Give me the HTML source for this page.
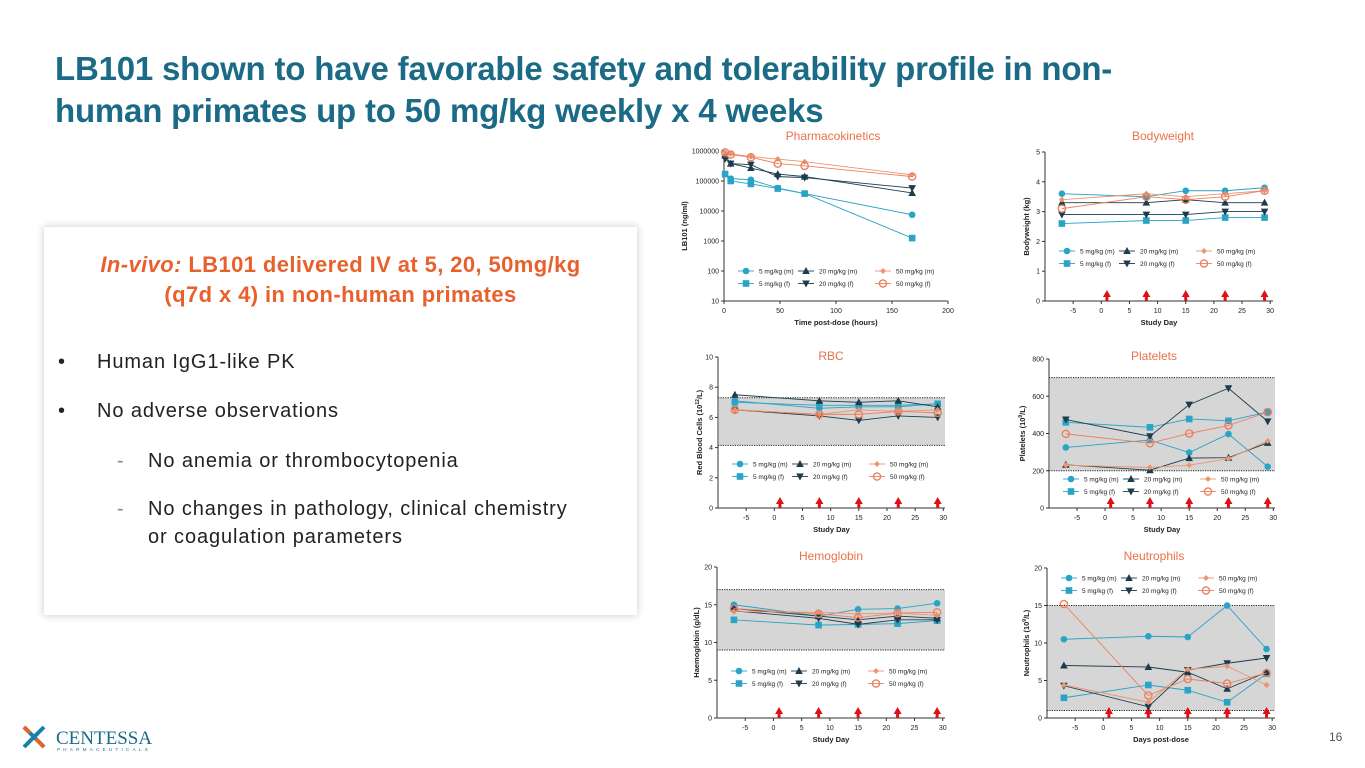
<!DOCTYPE html>
<html><head><meta charset="utf-8">
<style>
body{margin:0;width:1365px;height:768px;background:#fff;position:relative;overflow:hidden;font-family:"Liberation Sans",sans-serif}
#title{position:absolute;left:55px;top:48px;margin:0;font-size:33px;line-height:42px;font-weight:bold;color:#1b6b87;letter-spacing:-0.2px}
#card{position:absolute;left:44px;top:227px;width:593px;height:388px;background:#fff;box-shadow:0 0 8px rgba(0,0,0,0.22)}
#card h2{margin:0;position:absolute;left:0;top:23px;width:593px;text-align:center;font-size:22px;line-height:30px;color:#e8612c;font-weight:bold;letter-spacing:0.4px}
.b{position:absolute;font-size:20px;color:#222;line-height:28px;letter-spacing:0.9px}
#svg{position:absolute;left:0;top:0}
#pg{position:absolute;left:1329px;top:730px;font-size:12px;color:#555}
</style></head><body>
<h1 id="title">LB101 shown to have favorable safety and tolerability profile in non-<br>human primates up to 50 mg/kg weekly x 4 weeks</h1>
<div id="card">
<h2><i>In-vivo:</i> LB101 delivered IV at 5, 20, 50mg/kg<br>(q7d x 4) in non-human primates</h2>
<div class="b" style="left:14px;top:121px"><span style="position:absolute;left:0">•</span><span style="position:absolute;left:39px;white-space:nowrap">Human IgG1-like PK</span></div>
<div class="b" style="left:14px;top:170px"><span style="position:absolute;left:0">•</span><span style="position:absolute;left:39px;white-space:nowrap">No adverse observations</span></div>
<div class="b" style="left:73px;top:220px"><span style="position:absolute;left:0;color:#888">-</span><span style="position:absolute;left:31px;white-space:nowrap">No anemia or thrombocytopenia</span></div>
<div class="b" style="left:73px;top:268px"><span style="position:absolute;left:0;color:#888">-</span><span style="position:absolute;left:31px;white-space:nowrap">No changes in pathology, clinical chemistry<br>or coagulation parameters</span></div>
</div>
<div id="pg">16</div>
<svg id="svg" width="1365" height="768">
<g>
<path d="M24 727 L44 747 M44 727 L24 747" stroke="#1a7fa8" stroke-width="4"/>
<path d="M36 739 L44 747 M30 733 L24 727" stroke="#e8612c" stroke-width="4"/>
<text x="56" y="744" font-family="Liberation Serif,serif" font-size="19" fill="#1a6b87">CENTESSA</text>
<text x="57" y="751" font-family="Liberation Sans,sans-serif" font-size="4.5" letter-spacing="3.3" fill="#1a6b87">PHARMACEUTICALS</text>
</g>
</svg>
<script>
const days=[-7,8,15,22,29];
const pkTimes=[1,6,24,48,72,168];
const doseDays=[1,8,15,22,29];
const seriesNames=["5 mg/kg (m)","5 mg/kg (f)","20 mg/kg (m)","20 mg/kg (f)","50 mg/kg (m)","50 mg/kg (f)"];
const pk5m=[170000,120000,110000,58000,38000,7500];
const pk5f=[170000,100000,80000,56000,38000,1250];
const pk20m=[700000,380000,270000,170000,140000,40000];
const pk20f=[550000,380000,350000,140000,130000,58000];
const pk50m=[900000,800000,650000,540000,440000,160000];
const pk50f=[900000,760000,620000,380000,320000,140000];
const bw5m=[3.6,3.5,3.7,3.7,3.8];
const bw5f=[2.6,2.7,2.7,2.8,2.8];
const bw20m=[3.3,3.3,3.4,3.3,3.3];
const bw20f=[2.9,2.9,2.9,3.0,3.0];
const bw50m=[3.4,3.6,3.5,3.6,3.7];
const bw50f=[3.1,3.5,3.4,3.5,3.7];
const rbc5m=[7.1,6.6,6.7,6.7,6.9];
const rbc5f=[7.0,6.8,6.8,6.8,6.9];
const rbc20m=[7.5,7.1,7.0,7.1,6.7];
const rbc20f=[6.5,6.1,5.8,6.1,6.0];
const rbc50m=[6.5,6.2,6.5,6.4,6.5];
const rbc50f=[6.5,6.2,6.2,6.4,6.3];
const plt5m=[325,365,298,397,222];
const plt5f=[460,433,478,468,515];
const plt20m=[232,203,268,270,350];
const plt20f=[475,385,555,643,465];
const plt50m=[230,218,230,265,360];
const plt50f=[398,348,400,443,515];
const hb5m=[15,13.5,14.4,14.5,15.2];
const hb5f=[13,12.3,12.4,12.5,12.9];
const hb20m=[14.5,13.5,13.0,13.5,13.2];
const hb20f=[14.2,13.2,12.4,13.0,13.0];
const hb50m=[14.1,14.0,13.8,13.9,13.6];
const hb50f=[14.5,13.8,13.3,13.9,14.0];
const neu5m=[10.5,10.9,10.8,15,9.2];
const neu5f=[2.7,4.4,3.7,2.1,5.9];
const neu20m=[7,6.8,6.1,3.9,6.1];
const neu20f=[4.3,1.5,6.4,7.3,8];
const neu50m=[4.4,2.1,6.5,6.9,4.4];
const neu50f=[15.2,3,5.2,4.6,6];
const pkXTicks=[0,50,100,150,200];
const pkYTicks=[10,100,1000,10000,100000,1000000];
const dayTicks=[-5,0,5,10,15,20,25,30];

const NS="http://www.w3.org/2000/svg";
const svg=document.getElementById('svg');
const COL=["#29a3c6","#29a3c6","#1c3c4c","#1c3c4c","#ec9570","#ec8060"];
const MK=["circle","square","up","down","diamond","ocircle"];
function el(tag,attrs,parent){const e=document.createElementNS(NS,tag);for(const k in attrs)e.setAttribute(k,attrs[k]);(parent||svg).appendChild(e);return e;}
function marker(g,type,x,y,c){
  let e;
  if(type=="circle")e=el('circle',{cx:x,cy:y,r:3.3,fill:c},g);
  else if(type=="square")e=el('rect',{x:x-3.3,y:y-3.3,width:6.6,height:6.6,fill:c},g);
  else if(type=="up")e=el('path',{d:`M${x} ${y-4}L${x+3.8} ${y+3}L${x-3.8} ${y+3}Z`,fill:c},g);
  else if(type=="down")e=el('path',{d:`M${x} ${y+4}L${x+3.8} ${y-3}L${x-3.8} ${y-3}Z`,fill:c},g);
  else if(type=="diamond")e=el('path',{d:`M${x} ${y-3}L${x+3} ${y}L${x} ${y+3}L${x-3} ${y}Z`,fill:c},g);
  else e=el('circle',{cx:x,cy:y,r:3.6,fill:"none",stroke:c,"stroke-width":1.4},g);
  return e;
}
function chart(cfg){
  const g=el('g',{});
  
  
  const sx=v=>cfg.x0+(v-cfg.xmin)/(cfg.xmax-cfg.xmin)*(cfg.x1-cfg.x0);
  const sy=cfg.log?(v=>cfg.yb-(Math.log10(v)-Math.log10(cfg.ymin))/(Math.log10(cfg.ymax)-Math.log10(cfg.ymin))*(cfg.yb-cfg.yt)):(v=>cfg.yb-(v-cfg.ymin)/(cfg.ymax-cfg.ymin)*(cfg.yb-cfg.yt));
  const t=el('text',{x:cfg.tx,y:cfg.ty,"font-size":12,fill:"#e8724a","text-anchor":"middle","font-family":"Liberation Sans,sans-serif"},g);t.textContent=cfg.title;
  
  
  if(cfg.band){
    const b=el('rect',{x:cfg.x0+1,y:sy(cfg.band[1]),width:cfg.x1-cfg.x0-1,height:sy(cfg.band[0])-sy(cfg.band[1]),fill:"#d6d6d6"},g);
    
    
    cfg.band.forEach(v=>el('line',{x1:cfg.x0,x2:cfg.x1,y1:sy(v),y2:sy(v),stroke:"#222","stroke-width":1,"stroke-dasharray":"1.2,1.2"},g));
  }
  el('line',{x1:cfg.x0,x2:cfg.x0,y1:cfg.yt,y2:cfg.yb,stroke:"#333","stroke-width":1},g);
  el('line',{x1:cfg.x0,x2:cfg.x1,y1:cfg.yb,y2:cfg.yb,stroke:"#333","stroke-width":1},g);
  cfg.yticks.forEach(v=>{const y=sy(v);el('line',{x1:cfg.x0-3,x2:cfg.x0,y1:y,y2:y,stroke:"#333"},g);
    const tt=el('text',{x:cfg.x0-5,y:y+2.5,"font-size":7,"text-anchor":"end",fill:"#222"},g);tt.textContent=v;});
  cfg.xticks.forEach(v=>{const x=sx(v);el('line',{x1:x,x2:x,y1:cfg.yb,y2:cfg.yb+3,stroke:"#333"},g);
    const tt=el('text',{x:x,y:cfg.yb+12,"font-size":7,"text-anchor":"middle",fill:"#222"},g);tt.textContent=v;});
  const xl=el('text',{x:(cfg.x0+cfg.x1)/2,y:cfg.yb+24,"font-size":7.5,"font-weight":"bold","text-anchor":"middle",fill:"#222"},g);xl.textContent=cfg.xlabel;
  
  
  const yl=el('text',{x:0,y:0,"font-size":7.5,"font-weight":"bold","text-anchor":"middle",fill:"#222",transform:`translate(${cfg.x0-cfg.ylOff},${(cfg.yt+cfg.yb)/2}) rotate(-90)`},g);yl.innerHTML=cfg.ylabel;
  
  
  if(cfg.arrows)doseDays.forEach(d=>{const x=sx(d);const a=el('path',{d:`M${x} ${cfg.yb-11}L${x+4} ${cfg.yb-4}L${x+1.5} ${cfg.yb-4}L${x+1.5} ${cfg.yb}L${x-1.5} ${cfg.yb}L${x-1.5} ${cfg.yb-4}L${x-4} ${cfg.yb-4}Z`,fill:"#e0101a"},g);
    
    });
  cfg.series.forEach((s,i)=>{
    const sg=el('g',{},g);
    
    
    const pts=s.map((v,j)=>[sx(cfg.xs[j]),sy(v)]);
    el('polyline',{points:pts.map(p=>p.join(',')).join(' '),fill:"none",stroke:COL[i],"stroke-width":0.9},sg);
    pts.forEach(p=>marker(sg,MK[i],p[0],p[1],COL[i]));
  });
  const lg=el('g',{},g);
  
  
  const cols=[cfg.x0+22,cfg.x0+82,cfg.x0+159];
  seriesNames.forEach((n,i)=>{const cx=cols[Math.floor(i/2)],cy=cfg.ly+(i%2)*12.5;
    el('line',{x1:cx-8,x2:cx+8,y1:cy,y2:cy,stroke:COL[i],"stroke-width":0.9},lg);
    marker(lg,MK[i],cx,cy,COL[i]);
    const tt=el('text',{x:cx+13,y:cy+2.5,"font-size":6.5,fill:"#222"},lg);tt.textContent=n;});
}
chart({name:"pharmacokinetics-chart",title:"Pharmacokinetics",tx:833,ty:140,x0:724,x1:948,xmin:0,xmax:200,yt:151,yb:301,ymin:10,ymax:1000000,log:true,yticks:pkYTicks,xticks:pkXTicks,xs:pkTimes,xlabel:"Time post-dose (hours)",ylabel:"LB101 (ng/ml)",ylOff:37,ly:271,series:[pk5m,pk5f,pk20m,pk20f,pk50m,pk50f]});
chart({name:"bodyweight-chart",title:"Bodyweight",tx:1163,ty:140,x0:1045,x1:1273,xmin:-10,xmax:30.5,yt:152,yb:301,ymin:0,ymax:5,yticks:[0,1,2,3,4,5],xticks:dayTicks,xs:days,xlabel:"Study Day",ylabel:"Bodyweight (kg)",ylOff:16,ly:251,arrows:true,series:[bw5m,bw5f,bw20m,bw20f,bw50m,bw50f]});
chart({name:"rbc-chart",title:"RBC",tx:831,ty:360,x0:718,x1:945,xmin:-10,xmax:30.3,yt:357,yb:508,ymin:0,ymax:10,band:[4.15,7.3],yticks:[0,2,4,6,8,10],xticks:dayTicks,xs:days,xlabel:"Study Day",ylabel:"Red Blood Cells (10<tspan font-size='5' dy='-3'>12</tspan><tspan dy='3'>/L)</tspan>",ylOff:16,ly:464,arrows:true,series:[rbc5m,rbc5f,rbc20m,rbc20f,rbc50m,rbc50f]});
chart({name:"platelets-chart",title:"Platelets",tx:1154,ty:360,x0:1049,x1:1275,xmin:-10,xmax:30.3,yt:359,yb:508,ymin:0,ymax:800,band:[200,700],yticks:[0,200,400,600,800],xticks:dayTicks,xs:days,xlabel:"Study Day",ylabel:"Platelets (10<tspan font-size='5' dy='-3'>9</tspan><tspan dy='3'>/L)</tspan>",ylOff:24,ly:479,arrows:true,series:[plt5m,plt5f,plt20m,plt20f,plt50m,plt50f]});
chart({name:"hemoglobin-chart",title:"Hemoglobin",tx:831,ty:560,x0:717,x1:945,xmin:-10,xmax:30.4,yt:567,yb:718,ymin:0,ymax:20,band:[9,17],yticks:[0,5,10,15,20],xticks:dayTicks,xs:days,xlabel:"Study Day",ylabel:"Haemoglobin (g/dL)",ylOff:18,ly:671,arrows:true,series:[hb5m,hb5f,hb20m,hb20f,hb50m,hb50f]});
chart({name:"neutrophils-chart",title:"Neutrophils",tx:1154,ty:560,x0:1047,x1:1275,xmin:-10,xmax:30.5,yt:568,yb:718,ymin:0,ymax:20,band:[1,15],yticks:[0,5,10,15,20],xticks:dayTicks,xs:days,xlabel:"Days post-dose",ylabel:"Neutrophils (10<tspan font-size='5' dy='-3'>9</tspan><tspan dy='3'>/L)</tspan>",ylOff:18,ly:578,arrows:true,series:[neu5m,neu5f,neu20m,neu20f,neu50m,neu50f]});
</script>
</body></html>
